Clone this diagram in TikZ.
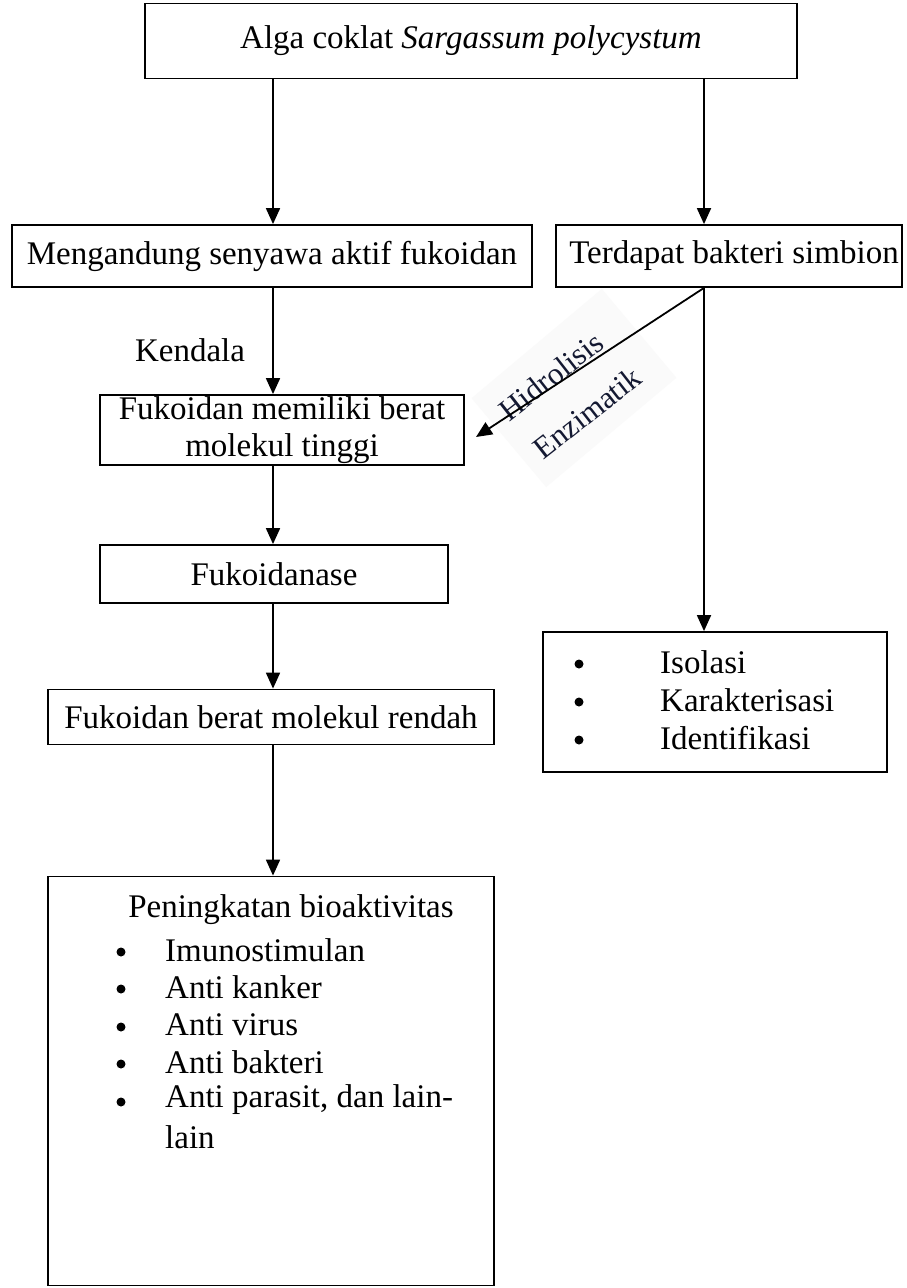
\documentclass[tikz,border=0pt]{standalone}
\usepackage{fontspec}
\setmainfont{Liberation Serif}
\usetikzlibrary{arrows.meta}
\definecolor{labelink}{RGB}{20,25,50}
\begin{document}
\begin{tikzpicture}[x=1pt,y=-1pt,
  every node/.style={font=\fontsize{33}{37.5}\selectfont, inner sep=0pt},
  box/.style={draw, line width=1.8pt, align=center},
  arr/.style={-{Triangle[length=16pt,width=14pt]}, line width=1.8pt},
  itemtxt/.style={anchor=west},
  bul/.style={circle, fill=black, minimum size=9pt, inner sep=0pt},
  diaglabel/.style={font=\fontsize{31}{34}\selectfont, text=labelink, rotate=38}
]
\useasboundingbox[fill=white] (0,0) rectangle (907,1288);

% boxes
\node[box, minimum width=652, minimum height=75] (top) at (471,41) {Alga coklat \textit{Sargassum polycystum}};
\node[box, minimum width=520, minimum height=62] (meng) at (272,256) {Mengandung senyawa aktif fukoidan};
\node[box, minimum width=346, minimum height=62] (terd) at (729,256) {\hspace*{10pt}Terdapat bakteri simbion};
\node[box, minimum width=364, minimum height=70] (fuk) at (282,430) {Fukoidan memiliki berat\\molekul tinggi};
\node[box, minimum width=348, minimum height=58] (fukase) at (274,574) {Fukoidanase};
\node[box, minimum width=446, minimum height=55] (rendah) at (271,717) {Fukoidan berat molekul rendah};
\node[box, minimum width=446, minimum height=409] (bio) at (271,1081) {};
\node[box, minimum width=344, minimum height=140] (iso) at (715,702) {};

% texts in lists
\node (pen) at (291,910) {Peningkatan bioaktivitas};
\foreach \y/\t [count=\i] in {950/Imunostimulan,987/Anti kanker,1025/Anti virus,1062/Anti bakteri,1100/{Anti parasit, dan lain-}}{
  \node[bul] (bb\i) at (121,\y+2) {};
  \node[itemtxt] (bt\i) at (165,\y) {\t};
}
\node[itemtxt] (bt6) at (165,1137) {lain};
\foreach \y/\t [count=\i] in {662/Isolasi,700/Karakterisasi,738/Identifikasi}{
  \node[bul] (ib\i) at (579,\y+2) {};
  \node[itemtxt] (it\i) at (660,\y) {\t};
}

\node (kendala) at (190,350) {Kendala};

% helper coordinates
\coordinate (lx) at (273,0);
\coordinate (rx) at (704,0);
\coordinate (diagend) at (476,437);

% faint label background
\fill[black!2, rotate around={40:(574,388)}] (489,330) rectangle (659,446);
\node[diaglabel] (hidro) at (551,376) {Hidrolisis};
\node[diaglabel] (enzim) at (587,413) {Enzimatik};

% connectors
\draw[arr] (top.south -| lx) -- (meng.north -| lx);
\draw[arr] (top.south -| rx) -- (terd.north -| rx);
\draw[arr] (meng.south -| lx) -- (fuk.north -| lx);
\draw[arr] (fuk.south -| lx) -- (fukase.north -| lx);
\draw[arr] (fukase.south -| lx) -- (rendah.north -| lx);
\draw[arr] (rendah.south -| lx) -- (bio.north -| lx);
\draw[arr] (terd.south -| rx) -- (iso.north -| rx);
\draw[arr] (terd.south -| rx) -- (diagend);
\end{tikzpicture}
\end{document}
